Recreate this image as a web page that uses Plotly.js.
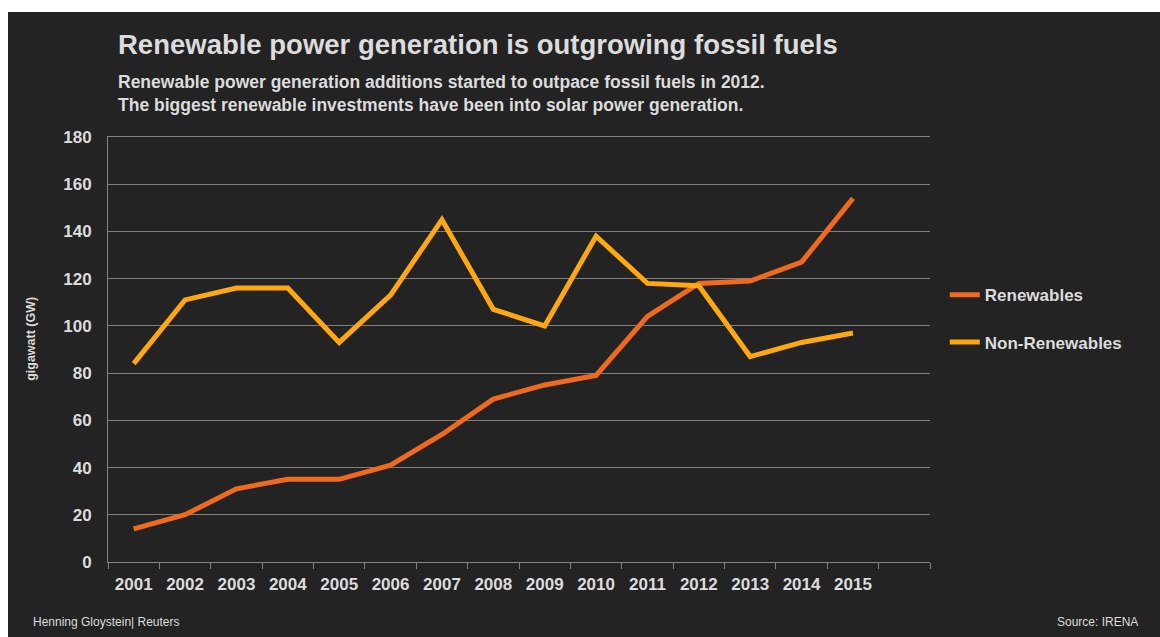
<!DOCTYPE html>
<html>
<head>
<meta charset="utf-8">
<script src="https://cdn.plot.ly/plotly-3.0.1.min.js"></script>
<style>
  html, body { margin: 0; padding: 0; background: #ffffff; }
  #chart { position: absolute; left: 8px; top: 12px; width: 1152px; height: 625px; }
</style>
</head>
<body>
<div id="chart"></div>
<script>
const years = [2001, 2002, 2003, 2004, 2005, 2006, 2007, 2008, 2009, 2010, 2011, 2012, 2013, 2014, 2015];
const renewables = [14, 20, 31, 35, 35, 41, 54, 69, 75, 79, 104, 118, 119, 127, 154];
const nonRenewables = [84, 111, 116, 116, 93, 113, 145, 107, 100, 138, 118, 117, 87, 93, 97];
const yTicks = [0, 20, 40, 60, 80, 100, 120, 140, 160, 180];

const fontFam = '"Liberation Sans", Arial, sans-serif';
const textCol = '#dcdcdc';

const traces = [
  {
    x: years, y: renewables, name: 'Renewables', type: 'scatter', mode: 'lines',
    line: { color: '#f06a1e', width: 5 }, legendgroup: 'a'
  },
  {
    x: years, y: nonRenewables, name: 'Non-Renewables', type: 'scatter', mode: 'lines',
    line: { color: '#fda811', width: 5 }, legendgroup: 'b'
  }
];

const layout = {
  width: 1152, height: 625,
  paper_bgcolor: '#232323', plot_bgcolor: '#232323',
  margin: { l: 100, r: 230, t: 125, b: 75 },
  font: { family: fontFam, color: textCol },
  showlegend: true,
  legend: {
    x: 1.018, xanchor: 'left', y: 0.67, yanchor: 'top',
    bgcolor: 'rgba(0,0,0,0)',
    font: { family: fontFam, size: 17, color: textCol, weight: 'bold' },
    tracegroupgap: 22, itemwidth: 30
  },
  xaxis: {
    range: [2000.5, 2016.5],
    tickmode: 'array', tickvals: years, ticktext: years.map(String),
    ticks: '', showgrid: false, zeroline: false,
    showline: true, mirror: true, linecolor: '#848484', linewidth: 1,
    tickfont: { family: fontFam, size: 17, color: textCol, weight: 'bold' },
    ticklabelstandoff: 7,
    minor: { tickmode: 'linear', tick0: 2000.5, dtick: 1, ticks: 'outside', ticklen: 6, tickcolor: '#848484', showgrid: false }
  },
  yaxis: {
    range: [0, 180],
    tickmode: 'array', tickvals: yTicks,
    ticks: '', showgrid: true, gridcolor: '#808080', gridwidth: 1,
    zeroline: false, showline: true, linecolor: '#848484', linewidth: 1,
    tickfont: { family: fontFam, size: 17, color: textCol, weight: 'bold' },
    ticklabelstandoff: 12
  },
  annotations: [
    {
      text: 'Renewable power generation is outgrowing fossil fuels',
      xref: 'paper', yref: 'paper', x: 0.0, y: 1, xshift: 8, yshift: 93,
      xanchor: 'left', yanchor: 'middle', showarrow: false,
      font: { family: fontFam, size: 27.5, color: textCol, weight: 'bold' }
    },
    {
      text: 'Renewable power generation additions started to outpace fossil fuels in 2012.<br>The biggest renewable investments have been into solar power generation.',
      xref: 'paper', yref: 'paper', x: 0.0, y: 1, xshift: 8, yshift: 44,
      xanchor: 'left', yanchor: 'middle', align: 'left', showarrow: false,
      font: { family: fontFam, size: 17.5, color: textCol, weight: 'bold' }
    },
    {
      text: 'gigawatt (GW)',
      xref: 'paper', yref: 'paper', x: -0.0937, y: 0.525,
      xanchor: 'center', yanchor: 'middle', textangle: -90, showarrow: false,
      font: { family: fontFam, size: 12.5, color: textCol, weight: 'bold' }
    },
    {
      text: 'Henning Gloystein| Reuters',
      xref: 'paper', yref: 'paper', x: 0, y: 0, xshift: -77, yshift: -60,
      xanchor: 'left', yanchor: 'middle', showarrow: false,
      font: { family: fontFam, size: 12, color: textCol }
    },
    {
      text: 'Source: IRENA',
      xref: 'paper', yref: 'paper', x: 1, y: 0, xshift: 210, yshift: -60,
      xanchor: 'right', yanchor: 'middle', showarrow: false,
      font: { family: fontFam, size: 12, color: textCol }
    }
  ]
};

Plotly.newPlot('chart', traces, layout, { displayModeBar: false, staticPlot: true });
</script>
</body>
</html>
